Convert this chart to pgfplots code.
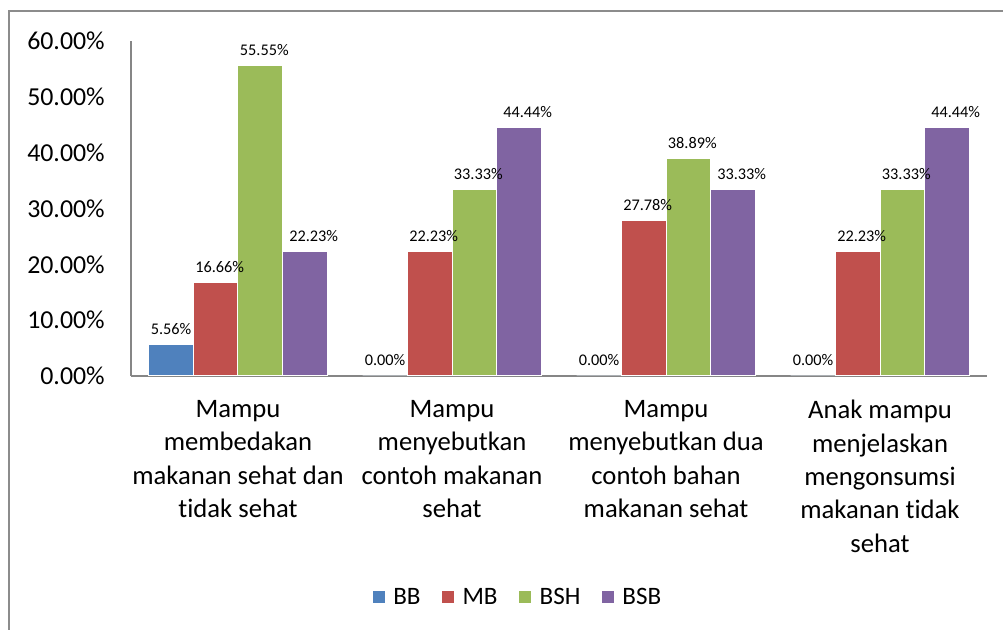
\documentclass[border=0pt]{standalone}
\usepackage{pgfplots}
\pgfplotsset{compat=1.18}
\usepackage{fontspec}
\setmainfont{Carlito}[Ligatures={NoCommon}]
\definecolor{cBB}{HTML}{4F81BD}
\definecolor{cMB}{HTML}{C0504D}
\definecolor{cBSH}{HTML}{9BBB59}
\definecolor{cBSB}{HTML}{8064A2}
\definecolor{axgray}{HTML}{868686}
\definecolor{bordergray}{HTML}{8C8C8C}
\begin{document}
\begin{tikzpicture}
\useasboundingbox (-98.25pt,-190.5pt) rectangle (654pt,282pt);
\draw[color=bordergray, line width=1.1pt] (-91.5pt,-200pt) -- (-91.5pt,273.75pt) -- (670pt,273.75pt);
\begin{axis}[
  at={(0,0)}, anchor=south west,
  scale only axis, width=642pt, height=251.25pt,
  ymin=0, ymax=60, xmin=-0.5, xmax=3.5,
  ybar=0pt, bar width=33.5pt,
  axis x line*=bottom, axis y line*=left,
  axis line style={draw=axgray, line width=0.9pt, -},
  major tick length=0pt,
  xtick={0,1,2,3},
  xticklabels={{Mampu\\membedakan\\makanan sehat dan\\tidak sehat},
               {Mampu\\menyebutkan\\contoh makanan\\sehat},
               {Mampu\\menyebutkan dua\\contoh bahan\\makanan sehat},
               {Anak mampu\\menjelaskan\\mengonsumsi\\makanan tidak\\sehat}},
  xticklabel style={align=center, font=\fontsize{20}{25}\selectfont, inner sep=0pt, yshift=-18pt},
  ytick={0,10,20,30,40,50,60},
  yticklabels={0.00\%,10.00\%,20.00\%,30.00\%,40.00\%,50.00\%,60.00\%},
  yticklabel style={font=\fontsize{19.4}{23}\selectfont, inner sep=0pt, xshift=-19.5pt},
  /pgf/number format/assume math mode=true,
  nodes near coords={\pgfmathprintnumber[fixed,fixed zerofill,precision=2]{\pgfplotspointmeta}\%},
  every node near coord/.append style={font=\fontsize{12.2}{14}\selectfont, inner sep=0pt, anchor=south, yshift=7.5pt, text=black},
  clip=false,
  legend style={at={(0.452,-0.660)}, anchor=center, draw=none, fill=none,
    font=\fontsize{18.8}{22}\selectfont,
    /tikz/every odd column/.append style={column sep=3.5pt},
    /tikz/every even column/.append style={column sep=13.5pt}},
  legend columns=4,
  legend image code/.code={\fill[#1] (0pt,-4.875pt) rectangle (9.75pt,4.875pt);},
]
\addplot[fill=cBB, draw=white, line width=0.75pt] coordinates {(0,5.56) (1,0) (2,0) (3,0)};
\addplot[fill=cMB, draw=white, line width=0.75pt, every node near coord/.append style={xshift=3pt}] coordinates {(0,16.66) (1,22.23) (2,27.78) (3,22.23)};
\addplot[fill=cBSH, draw=white, line width=0.75pt, every node near coord/.append style={xshift=3pt}] coordinates {(0,55.55) (1,33.33) (2,38.89) (3,33.33)};
\addplot[fill=cBSB, draw=white, line width=0.75pt, every node near coord/.append style={xshift=6.5pt}] coordinates {(0,22.23) (1,44.44) (2,33.33) (3,44.44)};
\legend{BB,MB,BSH,BSB}
\end{axis}
\end{tikzpicture}
\end{document}
